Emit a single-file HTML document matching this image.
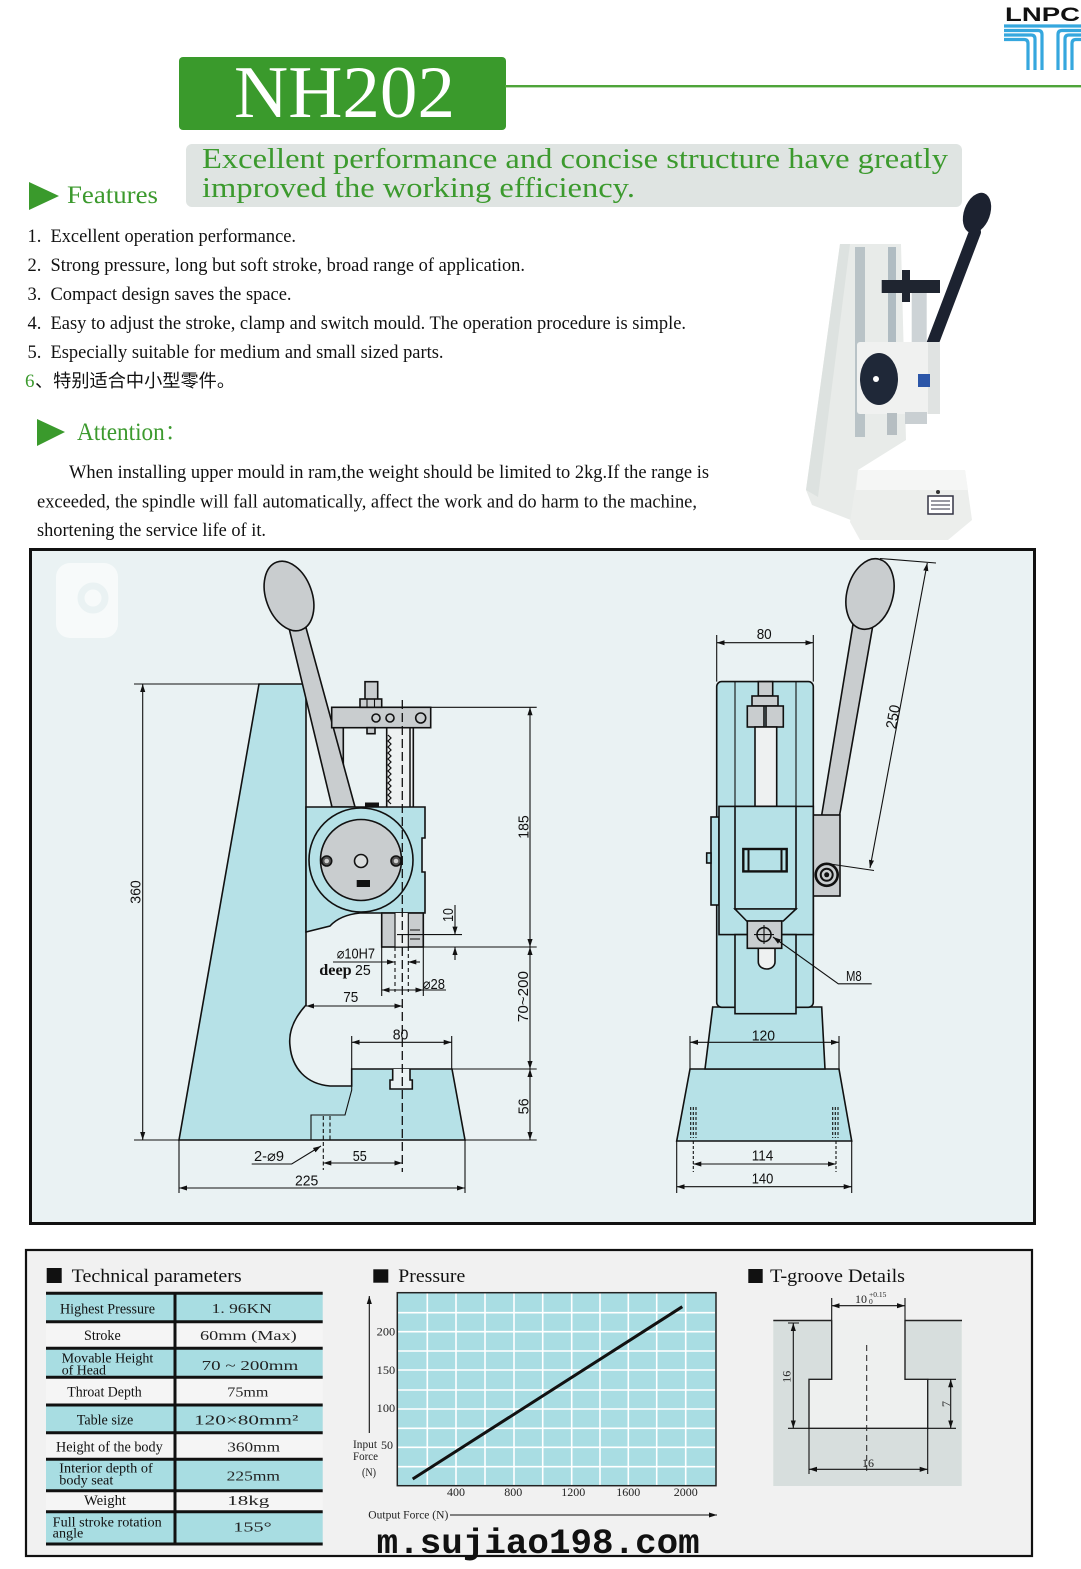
<!DOCTYPE html>
<html><head><meta charset="utf-8">
<style>
html,body{margin:0;padding:0;background:#fff;width:1081px;height:1569px;overflow:hidden}
svg{display:block}
.sf{font-family:"Liberation Serif","Noto Serif CJK SC",serif}
.sn{font-family:"Liberation Sans","DejaVu Sans",sans-serif}
.d{font-family:"Liberation Sans","DejaVu Sans",sans-serif;font-size:15px;fill:#111}
.o{stroke:#111;stroke-width:1.6}
.ln{stroke:#111;stroke-width:1.1;fill:none}
.dl{stroke:#111;stroke-width:1.1;fill:none;marker-start:url(#a);marker-end:url(#a)}
.de{stroke:#111;stroke-width:1.1;fill:none;marker-end:url(#a)}
.cl{stroke:#111;stroke-width:1.3;fill:none;stroke-dasharray:9 4}
</style></head><body>
<svg width="1081" height="1569" viewBox="0 0 1081 1569" xmlns="http://www.w3.org/2000/svg">
<defs>
<marker id="a" viewBox="0 0 10 10" refX="10" refY="5" markerWidth="8" markerHeight="8" orient="auto-start-reverse" markerUnits="userSpaceOnUse"><path d="M0,1.8 L10,5 L0,8.2z" fill="#111"/></marker>
</defs>
<rect width="1081" height="1569" fill="#fff"/>

<!-- LNPC logo -->
<text class="sn" x="1005" y="21" font-size="19.5" font-weight="bold" fill="#111" textLength="75" lengthAdjust="spacingAndGlyphs">LNPC</text>
<g stroke="#35a7de" stroke-width="3.2" fill="none">
<path d="M1004,26 H1081"/>
<path d="M1004,30.5 H1038 Q1042,30.5 1042,34.5 V70"/>
<path d="M1004,35 H1031 Q1035,35 1035,39 V70"/>
<path d="M1004,39.5 H1024 Q1028,39.5 1028,43.5 V70"/>
<path d="M1081,30.5 H1062 Q1058,30.5 1058,34.5 V70"/>
<path d="M1081,35 H1069 Q1065,35 1065,39 V70"/>
<path d="M1081,39.5 H1076 Q1072,39.5 1072,43.5 V70"/>
</g>

<!-- Header -->
<rect x="179" y="57" width="327" height="73" rx="4" fill="#3a9a2c"/>
<text class="sf" x="234" y="117" font-size="74" fill="#fff" textLength="221" lengthAdjust="spacingAndGlyphs">NH202</text>
<rect x="505" y="85" width="576" height="2.4" fill="#4ea43a"/>
<rect x="186" y="144" width="776" height="63" rx="6" fill="#dfe4e2"/>
<text class="sf" x="202" y="168" font-size="29" fill="#3c9a2e" textLength="746" lengthAdjust="spacingAndGlyphs">Excellent performance and concise structure have greatly</text>
<text class="sf" x="202" y="197" font-size="29" fill="#3c9a2e" textLength="433" lengthAdjust="spacingAndGlyphs">improved the working efficiency.</text>
<path d="M29,182 L59,196 L29,210z" fill="#3a9a2c"/>
<text class="sf" x="67" y="203" font-size="25" fill="#3c9a2e" textLength="91" lengthAdjust="spacingAndGlyphs">Features</text>

<!-- Features list -->
<g class="sf" font-size="18.5" fill="#111">
<text x="27.5" y="242">1.</text><text x="50.5" y="242" textLength="245.5" lengthAdjust="spacingAndGlyphs">Excellent operation performance.</text>
<text x="27.5" y="271">2.</text><text x="50.5" y="271" textLength="474.5" lengthAdjust="spacingAndGlyphs">Strong pressure, long but soft stroke, broad range of application.</text>
<text x="27.5" y="300">3.</text><text x="50.5" y="300" textLength="241" lengthAdjust="spacingAndGlyphs">Compact design saves the space.</text>
<text x="27.5" y="329">4.</text><text x="50.5" y="329" textLength="635.5" lengthAdjust="spacingAndGlyphs">Easy to adjust the stroke, clamp and switch mould. The operation procedure is simple.</text>
<text x="27.5" y="358">5.</text><text x="50.5" y="358" textLength="393" lengthAdjust="spacingAndGlyphs">Especially suitable for medium and small sized parts.</text>
</g>
<text class="sf" x="25" y="387" font-size="19" fill="#3c9a2e">6</text>
<text x="35" y="387" font-size="18" fill="#111" style='font-family:"Liberation Sans","Noto Sans CJK SC",sans-serif' textLength="200" lengthAdjust="spacingAndGlyphs">、特别适合中小型零件。</text>

<!-- Attention -->
<path d="M37,419 L65,432 L37,446z" fill="#3a9a2c"/>
<text class="sf" x="77" y="440" font-size="25" fill="#3c9a2e" textLength="111" lengthAdjust="spacingAndGlyphs">Attention：</text>
<g class="sf" font-size="18.5" fill="#111">
<text x="69" y="478" textLength="640" lengthAdjust="spacingAndGlyphs">When installing upper mould in ram,the weight should be limited to 2kg.If the range is</text>
<text x="37" y="507.5" textLength="660" lengthAdjust="spacingAndGlyphs">exceeded, the spindle will fall automatically, affect the work and do harm to the machine,</text>
<text x="37" y="536" textLength="229" lengthAdjust="spacingAndGlyphs">shortening the service life of it.</text>
</g>

<!-- Product photo -->
<g>
<polygon points="840,244 901,244 906,440 858,470 856,522 812,505 806,490" fill="#e8ebe9"/>
<polygon points="840,244 850,244 818,497 806,490" fill="#dde2e0"/>
<rect x="855" y="247" width="10" height="190" fill="#b9c3c7"/>
<rect x="888" y="247" width="8" height="100" fill="#b0bcc2"/>
<polygon points="858,470 965,470 972,520 948,540 860,540 850,522" fill="#eceeec"/>
<polygon points="858,470 965,470 968,490 856,490" fill="#f5f6f5"/>
<circle cx="938" cy="492" r="2" fill="#333"/>
<rect x="928" y="496" width="25" height="18" fill="#fff" stroke="#334" stroke-width="1.5"/>
<path d="M931,501 H950 M931,505 H950 M931,509 H950" stroke="#334" stroke-width="1"/>
<rect x="911.7" y="293" width="15" height="52" fill="#cdd3d6"/>
<rect x="881.7" y="280" width="58.3" height="13" fill="#1f2530"/>
<rect x="902" y="270" width="8" height="32" fill="#1f2530"/>
<line x1="932" y1="345" x2="975" y2="232" stroke="#1c2230" stroke-width="12" stroke-linecap="round"/>
<ellipse cx="977" cy="213" rx="13" ry="21" transform="rotate(20 977 213)" fill="#1c2230"/>
<rect x="857" y="342" width="83" height="72" rx="3" fill="#f0f1f0"/>
<rect x="928" y="342" width="12" height="72" fill="#e0e3e2"/>
<ellipse cx="879" cy="379" rx="19" ry="26" fill="#1f2838"/>
<circle cx="876" cy="379" r="3" fill="#fff"/>
<rect x="918" y="374" width="12" height="13" fill="#2c56a8"/>
<rect x="905" y="412" width="22" height="12" fill="#c9cfd2"/>
<rect x="887" y="413" width="10" height="22" fill="#b6bec2"/>
</g>

<!-- Drawing panel -->
<rect x="30.5" y="549.5" width="1004" height="674" fill="#eaf2f3" stroke="#111" stroke-width="3"/>
<rect x="56" y="563" width="62" height="75" rx="14" fill="#f7fafa"/>
<circle cx="93" cy="598" r="12" fill="none" stroke="#eaf2f3" stroke-width="7"/>

<!-- LEFT DRAWING -->
<path d="M179,1140 L259,684 L306,684 L306,1005 C296,1016 288,1030 290,1046 C292,1068 306,1084 330,1086 L351.7,1086 L351.7,1069 L452,1069 L465,1140 Z" fill="#b6e1e7" class="o"/>
<path d="M392.7,1069 V1080 H390 V1089 H412.3 V1080 H410 V1069" fill="#eaf2f3" class="o"/>
<path d="M351.7,1086 V1090 L345,1115 H311 V1140" class="ln" stroke-width="1.5"/>
<rect x="331.7" y="727.7" width="11.6" height="80" fill="#c9cdcf" class="o"/>
<rect x="386.7" y="727.7" width="26.6" height="80" fill="#eef1f1" class="o"/>
<line x1="410" y1="727.7" x2="410" y2="807" stroke="#111" stroke-width="1.5"/>
<path d="M388,735 l3,3 l-3,3 l3,3 l-3,3 l3,3 l-3,3 l3,3 l-3,3 l3,3 l-3,3 l3,3 l-3,3 l3,3 l-3,3 l3,3 l-3,3 l3,3 l-3,3 l3,3 l-3,3 l3,3 l-3,3 l3,3" fill="none" stroke="#111" stroke-width="1.2"/>
<polygon points="289,628 305,624 355,807 332,807" fill="#c9cdcf" class="o"/>
<ellipse cx="289" cy="596" rx="23" ry="36" transform="rotate(-20 289 596)" fill="#c9cdcf" class="o"/>
<rect x="331.7" y="707.3" width="99" height="20.4" fill="#c9cdcf" class="o"/>
<circle cx="376" cy="718" r="4" fill="none" class="o" stroke-width="1.3"/>
<circle cx="390" cy="718" r="4" fill="none" class="o" stroke-width="1.3"/>
<circle cx="420.7" cy="718" r="5" fill="none" class="o" stroke-width="1.3"/>
<rect x="365" y="681.7" width="12.7" height="18" fill="#c9cdcf" class="o" stroke-width="1.3"/>
<rect x="360" y="699" width="21.7" height="8.3" fill="#c9cdcf" class="o" stroke-width="1.3"/>
<path d="M367,699 V707 M374.5,699 V707" class="ln"/>
<rect x="367" y="727.7" width="8" height="6" fill="#c9cdcf" class="o" stroke-width="1.2"/>
<rect x="365" y="802.5" width="14" height="5" fill="#111"/>
<path d="M306,807 H425 V838 H422 V872 H425 V913 H360 Q340,915 330,926 L306,932 Z" fill="#b6e1e7" class="o"/>
<circle cx="361" cy="860" r="52" fill="none" class="o" stroke-width="1.3"/>
<circle cx="361" cy="860" r="40.5" fill="#c9cdcf" class="o" stroke-width="2"/>
<circle cx="361" cy="861" r="6.5" fill="#dadddd" class="o" stroke-width="1.3"/>
<circle cx="326.7" cy="861" r="5" fill="#555" class="o"/>
<circle cx="326.7" cy="861" r="2.3" fill="#ccc"/>
<circle cx="396" cy="861" r="5" fill="#555" class="o"/>
<circle cx="396" cy="861" r="2.3" fill="#ccc"/>
<rect x="356.7" y="880" width="13.3" height="7" fill="#111"/>
<rect x="381.7" y="913" width="41.6" height="34" fill="#c9cdcf" class="o"/>
<rect x="395" y="913" width="13.3" height="34" fill="#eef1f1"/>
<path d="M395,913 V947 M408.3,913 V947" class="ln" stroke-width="1.3"/>
<path d="M395,947 V992 M408.3,947 V992" class="ln" stroke-dasharray="4 3"/>
<path d="M410,930 H420 M410,939 H420" class="ln" stroke-width="1.4"/>
<line x1="402.3" y1="700" x2="402.3" y2="1172" class="cl"/>

<!-- left dims -->
<path d="M134,684 H259 M134,1140 H536.7" class="ln"/>
<line x1="142.7" y1="684" x2="142.7" y2="1140" class="dl"/>
<path d="M430.7,707.3 H536.7 M381.7,947 H536.7 M452,1069 H536.7" class="ln"/>
<line x1="530" y1="707.3" x2="530" y2="947" class="dl"/>
<line x1="530" y1="947" x2="530" y2="1069" class="dl"/>
<line x1="530" y1="1069" x2="530" y2="1140" class="dl"/>
<path d="M397,934.6 H462" class="ln"/>
<line x1="455" y1="905" x2="455" y2="934.6" class="de"/>
<line x1="455" y1="960" x2="455" y2="947" class="de"/>
<line x1="333" y1="962" x2="395" y2="962" class="de"/>
<line x1="420" y1="962" x2="408.3" y2="962" class="de"/>
<path d="M381.7,947 V996 M423.3,947 V996" class="ln"/>
<line x1="381.7" y1="990" x2="423.3" y2="990" class="dl"/>
<path d="M423.3,990 H446" class="ln"/>
<line x1="306" y1="1006" x2="402.3" y2="1006" class="dl"/>
<path d="M351.7,1036 V1069 M451.7,1036 V1069" class="ln"/>
<line x1="351.7" y1="1042.3" x2="451.7" y2="1042.3" class="dl"/>
<path d="M323.3,1116 V1170 M330,1116 V1140" class="ln" stroke-dasharray="4 2.5"/>
<line x1="323.3" y1="1163" x2="402.3" y2="1163" class="dl"/>
<path d="M179,1140 V1193 M465,1140 V1193" class="ln"/>
<line x1="179" y1="1188" x2="465" y2="1188" class="dl"/>
<path d="M251.7,1164 H291.7 L321,1146" class="de"/>

<text class="d" transform="translate(135,892) rotate(-90)" x="0" y="5.4" text-anchor="middle" textLength="23.5" lengthAdjust="spacingAndGlyphs">360</text>
<text class="d" transform="translate(523,827) rotate(-90)" x="0" y="5.4" text-anchor="middle" textLength="23.5" lengthAdjust="spacingAndGlyphs">185</text>
<text class="d" transform="translate(522.7,996.6) rotate(-90)" x="0" y="5.4" text-anchor="middle" textLength="51" lengthAdjust="spacingAndGlyphs">70~200</text>
<text class="d" transform="translate(523.3,1106.4) rotate(-90)" x="0" y="5.4" text-anchor="middle" textLength="16" lengthAdjust="spacingAndGlyphs">56</text>
<text class="d" transform="translate(448.3,915) rotate(-90)" x="0" y="4.8" text-anchor="middle" font-size="13" textLength="13.7" lengthAdjust="spacingAndGlyphs">10</text>
<text class="d" x="336.7" y="958.5" font-size="13" textLength="38.3" lengthAdjust="spacingAndGlyphs">⌀10H7</text>
<text class="sf" x="319.3" y="975" font-size="16" font-weight="bold" fill="#111" textLength="32.4" lengthAdjust="spacingAndGlyphs">deep</text>
<text class="d" x="355" y="975" font-size="14" textLength="15.7" lengthAdjust="spacingAndGlyphs">25</text>
<text class="d" x="422.7" y="989" font-size="13" textLength="22.3" lengthAdjust="spacingAndGlyphs">⌀28</text>
<text class="d" x="343.3" y="1002" textLength="15" lengthAdjust="spacingAndGlyphs">75</text>
<text class="d" x="392.7" y="1039.3" textLength="15.6" lengthAdjust="spacingAndGlyphs">80</text>
<text class="d" x="254" y="1161" font-size="13" textLength="30" lengthAdjust="spacingAndGlyphs">2-⌀9</text>
<text class="d" x="352.7" y="1161" textLength="14" lengthAdjust="spacingAndGlyphs">55</text>
<text class="d" x="295" y="1185.5" textLength="23.3" lengthAdjust="spacingAndGlyphs">225</text>

<!-- RIGHT DRAWING -->
<polygon points="690,1069 839,1069 851.7,1141 676.7,1141" fill="#b6e1e7" class="o"/>
<polygon points="712.7,1007 821.7,1007 825,1069 705,1069" fill="#b6e1e7" class="o"/>
<rect x="716.7" y="681.6" width="96.6" height="325.7" rx="5" fill="#b6e1e7" class="o"/>
<path d="M735,681.6 V1007 M796,681.6 V1007" class="ln" stroke-width="1.4"/>
<rect x="758.3" y="681.6" width="14.4" height="14.4" fill="#c9cdcf" class="o" stroke-width="1.3"/>
<rect x="752" y="696" width="26" height="10" fill="#c9cdcf" class="o" stroke-width="1.3"/>
<rect x="747.3" y="706" width="16.7" height="21" fill="#c9cdcf" class="o"/>
<rect x="766" y="706" width="17.3" height="21" fill="#c9cdcf" class="o"/>
<rect x="755" y="727" width="21.7" height="79.4" fill="#eef1f1" class="o"/>
<rect x="711" y="817" width="8" height="88" fill="#b6e1e7" class="o"/>
<rect x="706.7" y="853" width="4.3" height="10" fill="#b6e1e7" class="o" stroke-width="1.2"/>
<rect x="719" y="806.4" width="94.3" height="128.2" fill="#b6e1e7" class="o"/>
<rect x="735" y="806.4" width="61" height="102.6" fill="#b6e1e7" class="o"/>
<rect x="743.3" y="849" width="43.4" height="22.4" fill="#b6e1e7" stroke="#111" stroke-width="2.4"/>
<path d="M748.5,849 V871.4 M781.5,849 V871.4" stroke="#111" stroke-width="2"/>
<polygon points="821.7,815 839.3,817 873.3,623 853.3,622.6" fill="#c9cdcf" class="o"/>
<ellipse cx="870" cy="594" rx="23" ry="36" transform="rotate(15 870 594)" fill="#c9cdcf" class="o"/>
<rect x="813.3" y="815" width="26.7" height="81" fill="#c9cdcf" class="o"/>
<circle cx="826.7" cy="874.8" r="11" fill="#c9cdcf" stroke="#111" stroke-width="2.6"/>
<circle cx="826.7" cy="874.8" r="6" fill="none" stroke="#111" stroke-width="2"/>
<circle cx="826.7" cy="874.8" r="2.5" fill="#111"/>
<polygon points="735,909 796,909 783.3,921 746.7,921" fill="#b6e1e7" class="o" stroke-width="1.3"/>
<rect x="735" y="934.6" width="61" height="79.1" fill="#b6e1e7" class="o"/>
<path d="M758.3,948 V962 A8.35,7 0 0 0 775,962 V948" fill="#eef1f1" class="o" stroke-width="1.3"/>
<rect x="747.3" y="921" width="34.4" height="27.3" fill="#c9cdcf" class="o"/>
<circle cx="764" cy="934.6" r="7" fill="none" class="o" stroke-width="1.3"/>
<path d="M754,934.6 H774 M764,925 V944" class="ln"/>
<g class="ln" stroke-dasharray="3 2">
<path d="M690.7,1107 V1138 M693.3,1107 V1138 M696,1107 V1138"/>
<path d="M832.7,1107 V1138 M835.3,1107 V1138 M838,1107 V1138"/>
<path d="M693.3,1141 V1172 M836,1141 V1172"/>
</g>

<!-- right dims -->
<path d="M716.7,635 V681.6 M813.3,635 V681.6" class="ln"/>
<line x1="716.7" y1="642.7" x2="813.3" y2="642.7" class="dl"/>
<path d="M880,558.5 L936,563 M830,864 L874,870.5" class="ln"/>
<line x1="927.3" y1="563" x2="870" y2="868" class="dl"/>
<path d="M871.7,983.8 H838.3 L773,937" class="de"/>
<path d="M690,1036 V1069 M839,1036 V1069" class="ln"/>
<line x1="690" y1="1042.3" x2="839" y2="1042.3" class="dl"/>
<line x1="693.3" y1="1164" x2="836" y2="1164" class="dl"/>
<path d="M676.7,1141 V1193 M851.7,1141 V1193" class="ln"/>
<line x1="676.7" y1="1186.7" x2="851.7" y2="1186.7" class="dl"/>
<text class="d" x="756.7" y="638.9" textLength="15" lengthAdjust="spacingAndGlyphs">80</text>
<text class="d" transform="translate(892.7,716.7) rotate(-79.4)" x="0" y="5.4" text-anchor="middle" textLength="24" lengthAdjust="spacingAndGlyphs">250</text>
<text class="d" x="846" y="980.8" font-size="14" textLength="15.7" lengthAdjust="spacingAndGlyphs">M8</text>
<text class="d" x="751.7" y="1040.6" textLength="23.3" lengthAdjust="spacingAndGlyphs">120</text>
<text class="d" x="751.7" y="1160.3" textLength="21.6" lengthAdjust="spacingAndGlyphs">114</text>
<text class="d" x="751.7" y="1183.3" textLength="21.6" lengthAdjust="spacingAndGlyphs">140</text>

<!-- BOTTOM PANEL -->
<rect x="26" y="1250" width="1006" height="306" fill="#f1f1f1" stroke="#111" stroke-width="2.2"/>

<!-- Technical parameters -->
<rect x="46.7" y="1268" width="15" height="15" fill="#111"/>
<text class="sf" x="71.7" y="1282" font-size="19" fill="#111" textLength="170" lengthAdjust="spacingAndGlyphs">Technical parameters</text>
<g>
<rect x="46" y="1293.3" width="276.7" height="28.4" fill="#a8dde2"/>
<rect x="46" y="1321.7" width="276.7" height="26.6" fill="#f5f5f5"/>
<rect x="46" y="1348.3" width="276.7" height="29" fill="#a8dde2"/>
<rect x="46" y="1377.3" width="276.7" height="27.7" fill="#f5f5f5"/>
<rect x="46" y="1405" width="276.7" height="27.7" fill="#a8dde2"/>
<rect x="46" y="1432.7" width="276.7" height="26.6" fill="#f5f5f5"/>
<rect x="46" y="1459.3" width="276.7" height="31.4" fill="#a8dde2"/>
<rect x="46" y="1490.7" width="276.7" height="21" fill="#f5f5f5"/>
<rect x="46" y="1511.7" width="276.7" height="32.3" fill="#a8dde2"/>
</g>
<g stroke="#111" stroke-width="3">
<path d="M46,1293.3 H322.7 M46,1321.7 H322.7 M46,1348.3 H322.7 M46,1377.3 H322.7 M46,1405 H322.7 M46,1432.7 H322.7 M46,1459.3 H322.7 M46,1490.7 H322.7 M46,1511.7 H322.7 M46,1544 H322.7"/>
<path d="M175,1293.3 V1544"/>
</g>
<g class="sf" fill="#111">
<text x="60" y="1313.3" font-size="15" textLength="95" lengthAdjust="spacingAndGlyphs">Highest Pressure</text>
<text x="84" y="1340" font-size="15" textLength="36.7" lengthAdjust="spacingAndGlyphs">Stroke</text>
<text x="61.7" y="1362.7" font-size="14" textLength="91.6" lengthAdjust="spacingAndGlyphs">Movable Height</text>
<text x="61.7" y="1374.3" font-size="14" textLength="44.3" lengthAdjust="spacingAndGlyphs">of Head</text>
<text x="67.3" y="1396.7" font-size="15" textLength="74.4" lengthAdjust="spacingAndGlyphs">Throat Depth</text>
<text x="76.7" y="1424.3" font-size="15" textLength="56.6" lengthAdjust="spacingAndGlyphs">Table size</text>
<text x="56" y="1451.7" font-size="15" textLength="106.7" lengthAdjust="spacingAndGlyphs">Height of the body</text>
<text x="59.3" y="1472.7" font-size="14" textLength="93.4" lengthAdjust="spacingAndGlyphs">Interior depth of</text>
<text x="59.3" y="1484.3" font-size="14" textLength="54" lengthAdjust="spacingAndGlyphs">body seat</text>
<text x="84" y="1505" font-size="15" textLength="42" lengthAdjust="spacingAndGlyphs">Weight</text>
<text x="52.7" y="1526.7" font-size="14" textLength="109" lengthAdjust="spacingAndGlyphs">Full stroke rotation</text>
<text x="52.7" y="1537.7" font-size="14" textLength="30.6" lengthAdjust="spacingAndGlyphs">angle</text>
</g>
<g class="sf" fill="#222" font-size="14">
<text x="211.7" y="1313" textLength="60" lengthAdjust="spacingAndGlyphs">1. 96KN</text>
<text x="200" y="1340" textLength="96.7" lengthAdjust="spacingAndGlyphs">60mm (Max)</text>
<text x="201.7" y="1370" textLength="96.6" lengthAdjust="spacingAndGlyphs">70 ~ 200mm</text>
<text x="227.3" y="1396.7" textLength="41" lengthAdjust="spacingAndGlyphs">75mm</text>
<text x="194" y="1424.3" textLength="104.3" lengthAdjust="spacingAndGlyphs">120×80mm²</text>
<text x="227.3" y="1451.7" textLength="52.7" lengthAdjust="spacingAndGlyphs">360mm</text>
<text x="226.7" y="1480.7" textLength="53.3" lengthAdjust="spacingAndGlyphs">225mm</text>
<text x="227.3" y="1505" textLength="42" lengthAdjust="spacingAndGlyphs">18kg</text>
<text x="233.3" y="1531.7" textLength="38.4" lengthAdjust="spacingAndGlyphs">155°</text>
</g>

<!-- Pressure chart -->
<rect x="373.3" y="1269.3" width="15" height="13.4" fill="#111"/>
<text class="sf" x="398.3" y="1282" font-size="19" fill="#111" textLength="67" lengthAdjust="spacingAndGlyphs">Pressure</text>
<rect x="397.3" y="1292.7" width="318.7" height="193" fill="#a9dde3"/>
<g stroke="#fff" stroke-width="1.6">
<path d="M427.3,1293 V1485 M456,1293 V1485 M485,1293 V1485 M514,1293 V1485 M542.7,1293 V1485 M571.7,1293 V1485 M600,1293 V1485 M628.3,1293 V1485 M656.7,1293 V1485 M685.7,1293 V1485"/>
<path d="M398,1312.7 H715 M398,1331.7 H715 M398,1351 H715 M398,1370 H715 M398,1390 H715 M398,1409 H715 M398,1428.3 H715 M398,1447.3 H715 M398,1466.7 H715"/>
</g>
<rect x="397.3" y="1292.7" width="318.7" height="193" fill="none" stroke="#222" stroke-width="1.5"/>
<line x1="412.7" y1="1479" x2="682.3" y2="1306.7" stroke="#111" stroke-width="3"/>
<g class="sf" fill="#222" font-size="12">
<text x="376.7" y="1335.5" textLength="18.5" lengthAdjust="spacingAndGlyphs">200</text>
<text x="376.7" y="1374" textLength="18.5" lengthAdjust="spacingAndGlyphs">150</text>
<text x="376.7" y="1412" textLength="18.5" lengthAdjust="spacingAndGlyphs">100</text>
<text x="381" y="1449" textLength="12" lengthAdjust="spacingAndGlyphs">50</text>
<text x="353" y="1448" font-size="11.5" textLength="24" lengthAdjust="spacingAndGlyphs">Input</text>
<text x="353" y="1460" font-size="11.5" textLength="25" lengthAdjust="spacingAndGlyphs">Force</text>
<text x="362" y="1476" font-size="11.5" textLength="14" lengthAdjust="spacingAndGlyphs">(N)</text>
<text x="456" y="1496" text-anchor="middle">400</text>
<text x="513.3" y="1496" text-anchor="middle">800</text>
<text x="573.3" y="1496" text-anchor="middle">1200</text>
<text x="628.3" y="1496" text-anchor="middle">1600</text>
<text x="685.7" y="1496" text-anchor="middle">2000</text>
<text x="368.3" y="1518.5" font-size="11.5" textLength="80" lengthAdjust="spacingAndGlyphs">Output Force (N)</text>
</g>
<line x1="369.3" y1="1433" x2="369.3" y2="1296" class="de" stroke-width="1.5"/>
<line x1="450" y1="1515" x2="717" y2="1515" class="de" stroke-width="1.5"/>
<text x="376.7" y="1553" font-size="35" font-weight="bold" fill="#111" style='font-family:"Liberation Mono","DejaVu Sans Mono",monospace' textLength="323" lengthAdjust="spacingAndGlyphs">m.sujiao198.com</text>

<!-- T-groove -->
<rect x="748.3" y="1269" width="14.4" height="14" fill="#111"/>
<text class="sf" x="770" y="1282" font-size="19" fill="#111" textLength="135" lengthAdjust="spacingAndGlyphs">T-groove Details</text>
<rect x="773.3" y="1320" width="188.4" height="166" fill="#d7dedd"/>
<path d="M831.7,1320 V1379.3 H809 V1428.3 H927.7 V1379.3 H905 V1320 Z" fill="#eef0ef"/>
<path d="M831.7,1320 V1379.3 H809 V1428.3 H927.7 V1379.3 H905 V1320" fill="none" stroke="#222" stroke-width="1.4"/>
<path d="M773.3,1320.5 H831.7 M905,1320.5 H962" stroke="#222" stroke-width="1.6"/>
<path d="M788,1428.3 H809 M927.7,1428.3 H956 M927.7,1379.3 H956 M831.7,1298 V1320 M905,1298 V1320 M809,1428.3 V1474 M927.7,1428.3 V1474 M788,1323 H799" class="ln" stroke-width="0.9"/>
<line x1="866.7" y1="1345" x2="866.7" y2="1473" stroke="#222" stroke-width="1" stroke-dasharray="6 4"/>
<line x1="831.7" y1="1305.7" x2="905" y2="1305.7" class="dl" stroke-width="0.9"/>
<line x1="793.3" y1="1323" x2="793.3" y2="1428.3" class="dl" stroke-width="0.9"/>
<line x1="950.7" y1="1379.3" x2="950.7" y2="1428.3" class="dl" stroke-width="0.9"/>
<line x1="809" y1="1469.3" x2="927.7" y2="1469.3" class="dl" stroke-width="0.9"/>
<g class="sf" fill="#222">
<text x="855" y="1303" font-size="12">10</text>
<text x="869" y="1297" font-size="7.5">+0.15</text>
<text x="869" y="1304" font-size="7.5">0</text>
<text transform="translate(786.7,1376.7) rotate(-90)" x="0" y="4" text-anchor="middle" font-size="12">16</text>
<text transform="translate(946,1404) rotate(-90)" x="0" y="4" text-anchor="middle" font-size="12">7</text>
<text x="868" y="1467" text-anchor="middle" font-size="12">16</text>
</g>
</svg>
</body></html>
